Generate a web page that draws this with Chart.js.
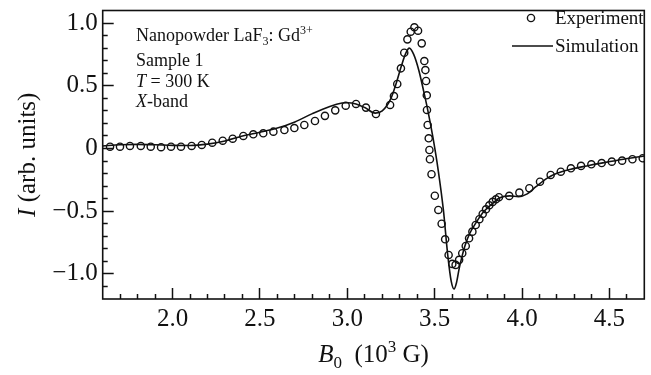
<!DOCTYPE html>
<html>
<head>
<meta charset="utf-8">
<script src="https://cdn.jsdelivr.net/npm/chart.js@4.4.0/dist/chart.umd.min.js"></script>
<style>
  html, body { margin: 0; padding: 0; background: #fff; }
</style>
</head>
<body>
<canvas id="epr" width="651" height="375"></canvas>
<script>
// B0 in 10^3 G, signal in arb. units
const expField = [1.642, 1.699, 1.756, 1.818, 1.875, 1.934, 1.991, 2.048, 2.109, 2.167,
  2.227, 2.287, 2.344, 2.405, 2.462, 2.519, 2.577, 2.640, 2.697, 2.754,
  2.815, 2.872, 2.931, 2.991, 3.050, 3.107, 3.164, 3.245, 3.267, 3.286,
  3.307, 3.326, 3.344, 3.363, 3.384, 3.405, 3.426, 3.441, 3.447, 3.451,
  3.455, 3.456, 3.460, 3.466, 3.470, 3.473, 3.482, 3.501, 3.521, 3.540,
  3.560, 3.580, 3.601, 3.620, 3.640, 3.658, 3.678, 3.697, 3.716, 3.735,
  3.756, 3.775, 3.794, 3.813, 3.832, 3.851, 3.868, 3.927, 3.985, 4.042,
  4.103, 4.164, 4.222, 4.280, 4.338, 4.397, 4.456, 4.514, 4.573, 4.632, 4.691];
const expSignal = [0.014, 0.014, 0.020, 0.020, 0.014, 0.010, 0.014, 0.014, 0.020, 0.028,
  0.046, 0.062, 0.078, 0.100, 0.113, 0.121, 0.134, 0.147, 0.163, 0.187,
  0.219, 0.260, 0.304, 0.341, 0.355, 0.326, 0.275, 0.347, 0.418, 0.514,
  0.639, 0.763, 0.870, 0.931, 0.966, 0.939, 0.838, 0.697, 0.625, 0.538,
  0.424, 0.307, 0.187, 0.081, -0.012, -0.086, -0.205, -0.377, -0.490, -0.600,
  -0.724, -0.849, -0.920, -0.928, -0.888, -0.835, -0.777, -0.716, -0.663, -0.610,
  -0.564, -0.522, -0.485, -0.453, -0.426, -0.405, -0.389, -0.378, -0.352, -0.317,
  -0.265, -0.211, -0.185, -0.158, -0.139, -0.126, -0.116, -0.105, -0.097, -0.086, -0.078];

const simField = [1.60, 1.70, 1.80, 1.90, 2.00, 2.10, 2.20, 2.30, 2.40, 2.50,
  2.60, 2.70, 2.80, 2.90, 2.97, 3.00, 3.05, 3.10, 3.16, 3.20,
  3.25, 3.28, 3.31, 3.335, 3.355, 3.38, 3.41, 3.435, 3.46, 3.49,
  3.52, 3.55, 3.575, 3.595, 3.611, 3.625, 3.64, 3.655, 3.675, 3.70,
  3.74, 3.78, 3.83, 3.87, 3.93, 3.98, 4.03, 4.08, 4.14, 4.20,
  4.28, 4.37, 4.47, 4.58, 4.70];
const simSignal = [0.020, 0.030, 0.033, 0.030, 0.025, 0.024, 0.035, 0.060, 0.100, 0.130,
  0.163, 0.212, 0.278, 0.335, 0.362, 0.365, 0.355, 0.326, 0.282, 0.300,
  0.400, 0.520, 0.660, 0.760, 0.800, 0.750, 0.620, 0.470, 0.310, 0.090,
  -0.170, -0.490, -0.850, -1.060, -1.120, -1.070, -0.960, -0.870, -0.770, -0.680,
  -0.585, -0.505, -0.440, -0.395, -0.378, -0.384, -0.362, -0.305, -0.240, -0.198,
  -0.165, -0.139, -0.113, -0.086, -0.060];

const xTicks = [2.0, 2.5, 3.0, 3.5, 4.0, 4.5];
const xTickLabels = ['2.0', '2.5', '3.0', '3.5', '4.0', '4.5'];
const yTicks = [1.0, 0.5, 0, -0.5, -1.0];
const yTickLabels = ['1.0', '0.5', '0', '\u22120.5', '\u22121.0'];
const xMinorTicks = [1.7, 1.8, 1.9, 2.1, 2.2, 2.3, 2.4, 2.6, 2.7, 2.8, 2.9, 3.1, 3.2, 3.3, 3.4,
  3.6, 3.7, 3.8, 3.9, 4.1, 4.2, 4.3, 4.4, 4.6];
const yMinorTicks = [-1.1, -0.9, -0.8, -0.7, -0.6, -0.4, -0.3, -0.2, -0.1,
  0.1, 0.2, 0.3, 0.4, 0.6, 0.7, 0.8, 0.9];

const serif = '"Liberation Serif", "Times New Roman", serif';

// draws a row of text pieces with their own font and vertical shift
function drawRuns(ctx, x, y, runs) {
  let cx = x;
  runs.forEach(r => {
    ctx.font = r.font;
    ctx.fillText(r.t, cx, y + (r.dy || 0));
    cx += ctx.measureText(r.t).width;
  });
  return cx;
}
function runsWidth(ctx, runs) {
  let w = 0;
  runs.forEach(r => { ctx.font = r.font; w += ctx.measureText(r.t).width; });
  return w;
}

// frame, annotation, legend and axis titles
const decorPlugin = {
  id: 'decor',
  afterDraw(chart) {
    const ctx = chart.ctx;
    const area = chart.chartArea;
    ctx.save();
    ctx.strokeStyle = '#111';
    ctx.fillStyle = '#111';

    ctx.lineWidth = 1.6;
    ctx.strokeRect(area.left, area.top, area.right - area.left, area.bottom - area.top);

    ctx.textBaseline = 'alphabetic';
    ctx.textAlign = 'left';
    const f = 18;
    const reg = f + 'px ' + serif, ita = 'italic ' + f + 'px ' + serif, small = '12px ' + serif;
    drawRuns(ctx, 136, 41, [{ t: 'Nanopowder LaF', font: reg }, { t: '3', font: small, dy: 4 },
      { t: ': Gd', font: reg }, { t: '3+', font: small, dy: -7 }]);
    drawRuns(ctx, 136, 66, [{ t: 'Sample 1', font: reg }]);
    drawRuns(ctx, 136, 87, [{ t: 'T', font: ita }, { t: ' = 300 K', font: reg }]);
    drawRuns(ctx, 136, 107, [{ t: 'X', font: ita }, { t: '-band', font: reg }]);

    // legend
    const lf = '19px ' + serif;
    ctx.lineWidth = 1.4;
    ctx.beginPath();
    ctx.arc(531, 18, 3.6, 0, Math.PI * 2);
    ctx.stroke();
    drawRuns(ctx, 555, 24, [{ t: 'Experiment', font: lf }]);
    ctx.lineWidth = 1.5;
    ctx.beginPath();
    ctx.moveTo(512, 46);
    ctx.lineTo(553, 46);
    ctx.stroke();
    drawRuns(ctx, 555, 52, [{ t: 'Simulation', font: lf }]);

    // x axis title
    const tf = '25px ' + serif, tfi = 'italic 25px ' + serif, tsm = '17px ' + serif;
    const xRuns = [{ t: 'B', font: tfi }, { t: '0', font: tsm, dy: 6 }, { t: '  (10', font: tf },
      { t: '3', font: tsm, dy: -10 }, { t: ' G)', font: tf }];
    const cx = (area.left + area.right) / 2;
    drawRuns(ctx, cx - runsWidth(ctx, xRuns) / 2, 362, xRuns);

    // y axis title
    const yRuns = [{ t: 'I', font: tfi }, { t: ' (arb. units)', font: tf }];
    ctx.translate(35, (area.top + area.bottom) / 2);
    ctx.rotate(-Math.PI / 2);
    drawRuns(ctx, -runsWidth(ctx, yRuns) / 2, 0, yRuns);
    ctx.restore();
  }
};

// tick marks pointing into the plot (negative tickLength), no grid lines
function inwardGrid(len) {
  return {
    display: true,
    drawOnChartArea: false,
    drawTicks: true,
    tickLength: -len,
    tickWidth: 1.5,
    tickColor: '#111',
  };
}

const ctx = document.getElementById('epr').getContext('2d');
new Chart(ctx, {
  type: 'scatter',
  data: {
    datasets: [
      {
        label: 'Experiment',
        data: expField.map((x, i) => ({ x: x, y: expSignal[i] })),
        showLine: false,
        pointStyle: 'circle',
        pointRadius: 3.6,
        pointBorderWidth: 1.4,
        borderColor: '#111',
        backgroundColor: 'rgba(0,0,0,0)',
      },
      {
        label: 'Simulation',
        data: simField.map((x, i) => ({ x: x, y: simSignal[i] })),
        showLine: true,
        pointRadius: 0,
        borderColor: '#111',
        borderWidth: 1.6,
        cubicInterpolationMode: 'monotone',
        fill: false,
      },
    ],
  },
  options: {
    responsive: false,
    animation: false,
    devicePixelRatio: 1,
    layout: { padding: { left: 0, right: 6.7, top: 10.5, bottom: 0 } },
    plugins: {
      legend: { display: false },
      tooltip: { enabled: false },
    },
    scales: {
      x: {
        type: 'linear',
        position: 'bottom',
        weight: 0,
        min: 1.6,
        max: 4.7,
        afterBuildTicks: s => { s.ticks = xTicks.map(v => ({ value: v })); },
        afterFit: s => { s.height = 76; s.paddingLeft = 0; s.paddingRight = 0; },
        ticks: {
          callback: (v, i) => xTickLabels[i],
          font: { family: serif, size: 25 },
          color: '#111',
          padding: 16,
          maxRotation: 0,
          autoSkip: false,
        },
        grid: inwardGrid(11),
        border: { display: false },
      },
      xMinor: {
        type: 'linear',
        axis: 'x',
        position: 'bottom',
        weight: -1,
        display: true,
        min: 1.6,
        max: 4.7,
        afterBuildTicks: s => { s.ticks = xMinorTicks.map(v => ({ value: v })); },
        afterFit: s => { s.height = 0; s.paddingLeft = 0; s.paddingRight = 0; },
        ticks: { display: false },
        grid: inwardGrid(5),
        border: { display: false },
      },
      y: {
        type: 'linear',
        position: 'left',
        weight: 0,
        min: -1.2,
        max: 1.1,
        afterBuildTicks: s => { s.ticks = yTicks.map(v => ({ value: v })); },
        afterFit: s => { s.width = 102.7; s.paddingTop = 0; s.paddingBottom = 0; },
        ticks: {
          callback: (v, i) => yTickLabels[i],
          font: { family: serif, size: 25 },
          color: '#111',
          padding: 16,
          autoSkip: false,
        },
        grid: inwardGrid(11),
        border: { display: false },
      },
      yMinor: {
        type: 'linear',
        axis: 'y',
        position: 'left',
        weight: -1,
        display: true,
        min: -1.2,
        max: 1.1,
        afterBuildTicks: s => { s.ticks = yMinorTicks.map(v => ({ value: v })); },
        afterFit: s => { s.width = 0; s.paddingTop = 0; s.paddingBottom = 0; },
        ticks: { display: false },
        grid: inwardGrid(5),
        border: { display: false },
      },
    },
  },
  plugins: [decorPlugin],
});
</script>
</body>
</html>
